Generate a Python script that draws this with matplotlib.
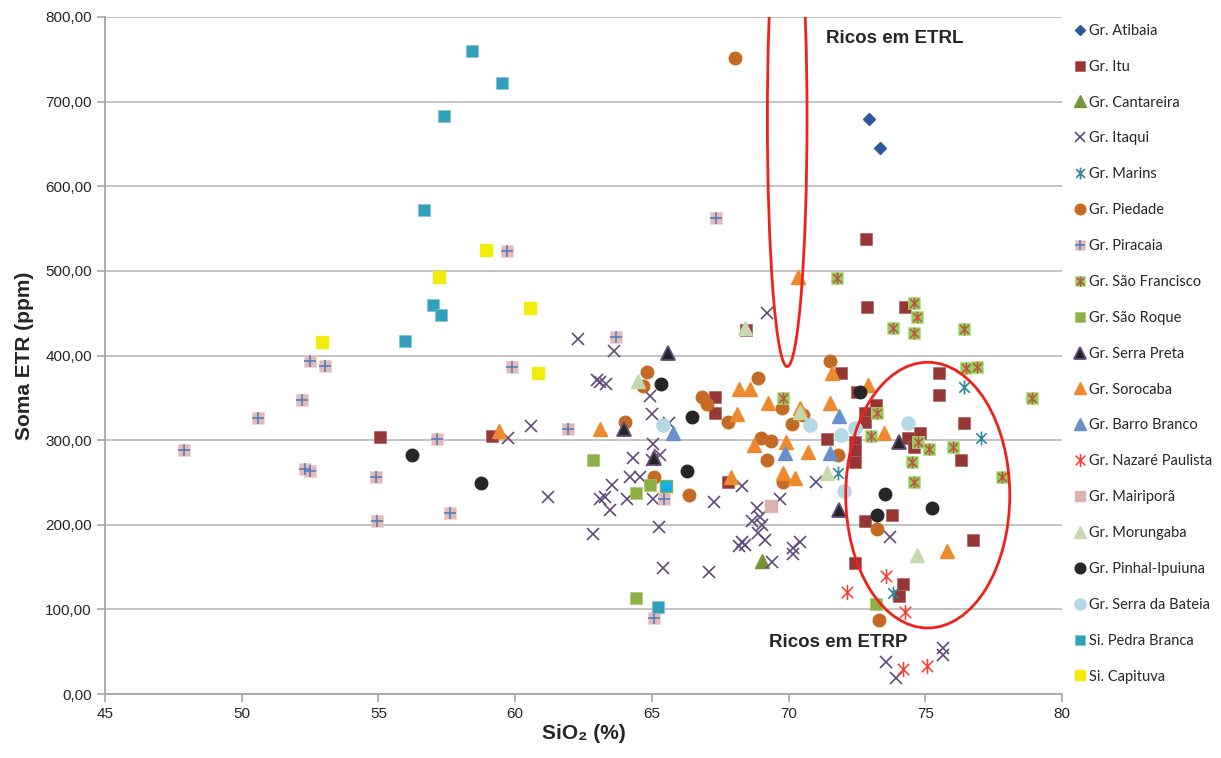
import matplotlib
matplotlib.use('Agg')
import matplotlib.pyplot as plt
from matplotlib.path import Path
from matplotlib.patches import Ellipse
from matplotlib.ticker import FuncFormatter, MultipleLocator

plt.rcParams['font.family'] = ['Liberation Sans', 'DejaVu Sans']

# ---------------- data (SiO2 %, Soma ETR ppm) ----------------
atibaia_x = [72.95, 73.36]
atibaia_y = [679, 645]

itu_x = [55.06, 59.16, 68.45, 67.32, 67.32, 67.8, 72.88, 74.27, 71.93, 75.5, 75.5, 76.43,
         71.4, 72.5, 73.2, 72.8, 72.8, 72.44, 72.44, 72.44, 74.38, 74.8, 74.57, 76.3,
         72.84, 72.8, 73.8, 76.76, 72.44, 74.2, 74.05]
itu_y = [304, 305, 430, 351, 332, 250, 457, 457, 379, 379, 353, 320,
         301, 357, 342, 332, 321, 298, 288, 274, 302, 308, 292, 276,
         538, 205, 211, 182, 155, 130, 116]

cantareira_x = [69.04]
cantareira_y = [157]

itaqui_x = [69.22, 62.3, 63.6, 63.0, 63.1, 63.33, 64.94, 65.0, 65.64, 60.59, 59.75, 65.05,
            64.32, 65.3, 65.0, 64.2, 64.57, 63.55, 61.2, 63.1, 63.3, 63.48, 64.1, 65.05,
            67.28, 68.3, 68.86, 69.7, 71.0, 62.86, 65.27, 68.97, 68.67, 69.04, 68.9, 69.15,
            68.3, 68.4, 68.2, 69.4, 70.17, 70.4, 70.17, 65.42, 67.1, 73.7, 75.66, 75.66,
            73.57, 73.94]
itaqui_y = [450, 419, 405, 371, 369, 366, 352, 331, 320, 317, 302, 296,
            279, 282, 276, 256, 256, 247, 233, 231, 233, 217, 230, 230,
            227, 246, 220, 231, 250, 189, 197, 209, 205, 200, 190, 182,
            180, 176, 175, 156, 173, 180, 166, 149, 144, 185, 54, 46,
            38, 19]

marins_x = [76.4, 77.05, 71.82, 73.83]
marins_y = [363, 302, 261, 119]

piedade_x = [68.05, 64.83, 64.68, 64.03, 66.84, 67.0, 67.8, 68.9, 69.77, 70.13, 69.0, 69.37,
             69.2, 65.08, 66.37, 69.8, 71.5, 70.54, 71.82, 73.25, 73.3]
piedade_y = [751, 381, 364, 321, 351, 343, 321, 374, 338, 319, 303, 299,
             277, 257, 235, 250, 393, 330, 283, 195, 87]

piracaia_x = [47.9, 50.6, 52.2, 52.5, 53.05, 52.3, 52.5, 54.9, 54.95, 57.14, 57.6,
              59.7, 67.36, 63.7, 59.9, 61.95, 65.45, 65.09]
piracaia_y = [288, 326, 347, 394, 388, 266, 263, 257, 204, 301, 214,
              523, 562, 422, 386, 313, 231, 90]

saofrancisco_x = [71.78, 74.6, 74.7, 73.83, 74.6, 76.43, 76.5, 76.9, 78.9, 69.8, 73.25,
                  73.0, 74.75, 75.15, 76.0, 74.5, 77.8, 74.57]
saofrancisco_y = [491, 462, 445, 433, 427, 431, 385, 386, 350, 350, 332,
                  305, 298, 290, 292, 274, 257, 251]

saoroque_x = [62.85, 64.94, 64.43, 64.43, 73.2]
saoroque_y = [277, 247, 238, 114, 106]

serrapreta_x = [65.6, 63.99, 65.09, 74.05, 71.86]
serrapreta_y = [403, 313, 279, 298, 218]

sorocaba_x = [70.36, 63.1, 59.4, 68.2, 68.6, 69.26, 68.12, 68.75, 69.9, 67.9, 69.8, 70.25,
              70.7, 71.5, 71.6, 70.4, 72.9, 73.5, 75.8]
sorocaba_y = [493, 313, 311, 361, 360, 344, 331, 294, 298, 257, 261, 255,
              286, 344, 379, 338, 365, 308, 169]

barrobranco_x = [65.78, 69.88, 71.5, 71.86]
barrobranco_y = [308, 285, 285, 329]

nazare_x = [73.57, 72.15, 74.27, 74.2, 75.08]
nazare_y = [140, 120, 97, 29, 33]

mairipora_x = [69.37]
mairipora_y = [222]

morungaba_x = [68.4, 64.5, 70.4, 71.4, 74.7]
morungaba_y = [432, 370, 333, 261, 164]

pinhal_x = [56.23, 58.76, 65.35, 66.48, 66.3, 72.6, 73.54, 73.25, 75.26]
pinhal_y = [283, 249, 366, 327, 263, 357, 236, 211, 220]

bateia_x = [65.4, 70.8, 71.93, 72.44, 74.38, 72.04]
bateia_y = [318, 318, 306, 314, 320, 240]

pedrabranca_x = [58.43, 59.53, 57.4, 56.67, 57.0, 57.3, 55.98, 65.23]
pedrabranca_y = [760, 722, 683, 572, 460, 448, 417, 103]

extra_x = [65.5]
extra_y = [246]

capituva_x = [52.94, 57.2, 58.94, 60.55, 60.84]
capituva_y = [416, 493, 525, 456, 379]

# ---------------- figure ----------------
fig = plt.figure(figsize=(12.21, 7.58), dpi=100)
ax = fig.add_axes([105/1221, 1-694/758, (1062-105)/1221, (694-17)/758])

ax.set_xlim(45, 80)
ax.set_ylim(0, 800)
ax.yaxis.set_major_locator(MultipleLocator(100))
ax.xaxis.set_major_locator(MultipleLocator(5))
ax.yaxis.set_major_formatter(FuncFormatter(lambda v, p: f"{v:.2f}".replace('.', ',')))
ax.grid(axis='y', color='#BEBEBE', linewidth=1.3, zorder=0)
ax.set_axisbelow(True)
for s in ['top', 'right']:
    ax.spines[s].set_visible(False)
for s in ['left', 'bottom']:
    ax.spines[s].set_color('#A6A6A6')
    ax.spines[s].set_linewidth(1.3)
ax.tick_params(axis='both', direction='out', length=6, color='#A6A6A6', width=1.2,
               labelsize=11, labelcolor='#262626')

ast = Path([(0, -1), (0, 1), (-0.75, -0.75), (0.75, 0.75), (-0.75, 0.75), (0.75, -0.75)],
           [Path.MOVETO, Path.LINETO, Path.MOVETO, Path.LINETO, Path.MOVETO, Path.LINETO])

handles = []
def pl(x, y, **kw):
    ln, = ax.plot(x, y, linestyle='none', **kw)
    return ln

h = pl(atibaia_x, atibaia_y, marker='D', ms=6.5, color='#2E5A9C', mec='#2E5A9C')
handles.append((h, 'Gr. Atibaia'))
h = pl(itu_x, itu_y, marker='s', ms=8.5, color='#953735', mec='#B06060', mew=0.5)
handles.append((h, 'Gr. Itu'))
h = pl(cantareira_x, cantareira_y, marker='^', ms=10, color='#77933C', mec='#77933C')
handles.append((h, 'Gr. Cantareira'))
h = pl(itaqui_x, itaqui_y, marker='x', ms=8.5, mew=1.2, color='#604A7B')
handles.append((h, 'Gr. Itaqui'))
h = pl(marins_x, marins_y, marker=ast, ms=10, mew=1.2, color='#31859C', mfc='none')
handles.append((h, 'Gr. Marins'))
h = pl(piedade_x, piedade_y, marker='o', ms=9, color='#C46A24', mec='#C46A24')
handles.append((h, 'Gr. Piedade'))
h1 = pl(piracaia_x, piracaia_y, marker='s', ms=8.5, color='#E6B9B8', mec='#F0D0D0', mew=0.5)
h2 = pl(piracaia_x, piracaia_y, marker='+', ms=9, mew=1.2, color='#4F7FC0')
handles.append(((h1, h2), 'Gr. Piracaia'))
h1 = pl(saofrancisco_x, saofrancisco_y, marker='s', ms=8.5, color='#92D050', mec='#B5E08A', mew=0.5)
h2 = pl(saofrancisco_x, saofrancisco_y, marker=ast, ms=8.5, mew=1.1, color='#C0504D', mfc='none')
handles.append(((h1, h2), 'Gr. São Francisco'))
h = pl(saoroque_x, saoroque_y, marker='s', ms=9, color='#8CB043', mec='#A8C870', mew=0.5)
handles.append((h, 'Gr. São Roque'))
h = pl(serrapreta_x, serrapreta_y, marker='^', ms=10, color='#262626', mec='#604A7B', mew=1.3)
handles.append((h, 'Gr. Serra Preta'))
h = pl(sorocaba_x, sorocaba_y, marker='^', ms=10.5, color='#EE8A2D', mec='#EE8A2D')
handles.append((h, 'Gr. Sorocaba'))
h = pl(barrobranco_x, barrobranco_y, marker='^', ms=10.5, color='#6A90CC', mec='#6A90CC')
handles.append((h, 'Gr. Barro Branco'))
h = pl(nazare_x, nazare_y, marker=ast, ms=11, mew=1.1, color='#FF3B30', mfc='none')
handles.append((h, 'Gr. Nazaré Paulista'))
h = pl(mairipora_x, mairipora_y, marker='s', ms=8.5, color='#DDB1B0', mec='#DDB1B0')
handles.append((h, 'Gr. Mairiporã'))
h = pl(morungaba_x, morungaba_y, marker='^', ms=10.5, color='#C5D8AE', mec='#C5D8AE')
handles.append((h, 'Gr. Morungaba'))
h = pl(pinhal_x, pinhal_y, marker='o', ms=9, color='#262626', mec='#262626')
handles.append((h, 'Gr. Pinhal-Ipuiuna'))
h = pl(bateia_x, bateia_y, marker='o', ms=9.5, color='#B3D9E6', mec='#B3D9E6')
handles.append((h, 'Gr. Serra da Bateia'))
h = pl(pedrabranca_x, pedrabranca_y, marker='s', ms=9, color='#339FB9', mec='#7FC4D6', mew=0.5)
handles.append((h, 'Si. Pedra Branca'))
pl(extra_x, extra_y, marker='s', ms=8.5, color='#12AEEA', mec='#8CB043', mew=1.0)
h = pl(capituva_x, capituva_y, marker='s', ms=9, color='#F3EB0C', mec='#F3EB0C')
handles.append((h, 'Si. Capituva'))

# ellipses
ax.add_patch(Ellipse((69.95, 680), 1.45, 586, fill=False, edgecolor='#F0201A', linewidth=2.0,
                     zorder=5, clip_on=True))
ax.add_patch(Ellipse((75.09, 235), 6.0, 314, fill=False, edgecolor='#F0201A', linewidth=2.0,
                     zorder=5))

ax.text(71.38, 775, 'Ricos em ETRL', fontsize=13.5, fontweight='bold', color='#262626',
        va='center', ha='left', zorder=6)
ax.text(69.3, 61, 'Ricos em ETRP', fontsize=13.5, fontweight='bold', color='#262626',
        va='center', ha='left', zorder=6)

ax.set_ylabel('Soma ETR (ppm)', fontsize=15, fontweight='bold', color='#262626', labelpad=8)
ax.set_xlabel('SiO₂ (%)', fontsize=15, fontweight='bold', color='#262626', labelpad=2)

leg = ax.legend([hh for hh, _ in handles], [lab for _, lab in handles],
                loc='upper left', bbox_to_anchor=(1069/1221, 1-18/758),
                bbox_transform=fig.transFigure, frameon=False, borderaxespad=0,
                handlelength=0.7, handletextpad=0.25, labelspacing=1.50, markerscale=0.85,
                prop={'family': ['Lato', 'DejaVu Sans'], 'size': 10.5})
for t in leg.get_texts():
    t.set_color('#262626')

fig.savefig('out.png', dpi=100)
